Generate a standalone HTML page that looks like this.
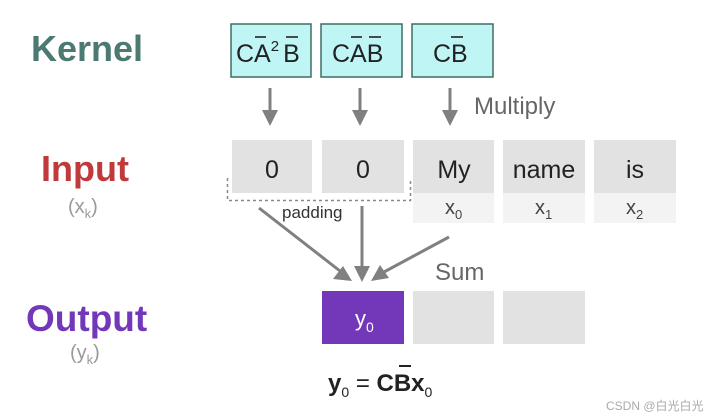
<!DOCTYPE html>
<html><head><meta charset="utf-8"><style>
html,body{margin:0;padding:0;background:#fff;}
svg{display:block;}
text{font-family:"Liberation Sans","Noto Sans CJK SC",sans-serif;}
</style></head><body>
<svg width="717" height="418" viewBox="0 0 717 418" xmlns="http://www.w3.org/2000/svg">
<!-- left labels -->
<text x="31" y="61" font-size="36" font-weight="bold" fill="#4a7a72">Kernel</text>
<text x="41" y="181" font-size="36" font-weight="bold" fill="#c0393b">Input</text>
<text x="68" y="213" font-size="20" fill="#999">(x<tspan font-size="13" dy="5">k</tspan><tspan dy="-5">)</tspan></text>
<text x="26" y="331" font-size="37" font-weight="bold" fill="#7338b9">Output</text>
<text x="70" y="359" font-size="20" fill="#999">(y<tspan font-size="13" dy="5">k</tspan><tspan dy="-5">)</tspan></text>

<!-- kernel boxes -->
<g fill="#bff5f5" stroke="#3e6e64" stroke-width="1.5">
<rect x="231" y="24" width="80" height="53"/>
<rect x="321" y="24" width="81" height="53"/>
<rect x="412" y="24" width="81" height="53"/>
</g>
<g font-size="25" fill="#222">
<text x="236" y="62">CA<tspan font-size="15" dy="-11">2</tspan><tspan dy="11" dx="4">B</tspan></text>
<text x="332" y="62">CAB</text>
<text x="433" y="62">CB</text>
</g>
<g stroke="#222" stroke-width="1.6">
<line x1="255" y1="37" x2="266" y2="37"/><line x1="286" y1="37" x2="298" y2="37"/>
<line x1="351" y1="37" x2="362" y2="37"/><line x1="369" y1="37" x2="381" y2="37"/>
<line x1="451" y1="37" x2="463" y2="37"/>
</g>

<!-- multiply arrows -->
<g stroke="#808080" stroke-width="3" fill="#808080">
<line x1="270" y1="88" x2="270" y2="112"/><path d="M262,110 L278,110 L270,126 Z" stroke="none"/>
<line x1="360" y1="88" x2="360" y2="112"/><path d="M352,110 L368,110 L360,126 Z" stroke="none"/>
<line x1="450" y1="88" x2="450" y2="112"/><path d="M442,110 L458,110 L450,126 Z" stroke="none"/>
</g>
<text x="474" y="114" font-size="24" fill="#666">Multiply</text>

<!-- input boxes -->
<g fill="#e2e2e2">
<rect x="232" y="140" width="80" height="53"/>
<rect x="322" y="140" width="82" height="53"/>
<rect x="413" y="140" width="81" height="53"/>
<rect x="503" y="140" width="82" height="53"/>
<rect x="594" y="140" width="82" height="53"/>
</g>
<g fill="#f3f3f3">
<rect x="413" y="193" width="81" height="30"/>
<rect x="503" y="193" width="82" height="30"/>
<rect x="594" y="193" width="82" height="30"/>
</g>
<g font-size="25" fill="#222" text-anchor="middle">
<text x="272" y="178">0</text>
<text x="363" y="178">0</text>
<text x="454" y="178">My</text>
<text x="544" y="178">name</text>
<text x="635" y="178">is</text>
</g>
<g font-size="20" fill="#444">
<text x="445" y="214">x<tspan font-size="13" dy="5">0</tspan></text>
<text x="535" y="214">x<tspan font-size="13" dy="5">1</tspan></text>
<text x="626" y="214">x<tspan font-size="13" dy="5">2</tspan></text>
</g>
<path d="M227.5,178 V200.5 H410.5 V178" fill="none" stroke="#888" stroke-width="1.5" stroke-dasharray="3,3"/>
<text x="282" y="218" font-size="17" fill="#333">padding</text>

<!-- sum arrows -->
<g stroke="#808080" stroke-width="3">
<line x1="259" y1="208" x2="340" y2="271"/>
<line x1="362" y1="206" x2="362" y2="268"/>
<line x1="449" y1="237" x2="384" y2="272"/>
</g>
<g fill="#808080">
<path d="M352,281 L333,279 L343,266 Z"/>
<path d="M354,266 L370,266 L362,282 Z"/>
<path d="M371,281 L380,265 L389,278 Z"/>
</g>
<text x="435" y="280" font-size="24" fill="#666">Sum</text>

<!-- output boxes -->
<rect x="322" y="291" width="82" height="53" fill="#7338b9"/>
<rect x="413" y="291" width="81" height="53" fill="#e2e2e2"/>
<rect x="503" y="291" width="82" height="53" fill="#e2e2e2"/>
<text x="355" y="326" font-size="22" fill="#fff">y<tspan font-size="14" dy="6">0</tspan></text>

<!-- formula -->
<text x="328" y="391" font-size="24" font-weight="bold" fill="#222">y<tspan font-size="14" font-weight="normal" dy="6">0</tspan><tspan dy="-6" font-weight="normal"> = </tspan>CBx<tspan font-size="14" font-weight="normal" dy="6">0</tspan></text>
<line x1="399" y1="366" x2="411" y2="366" stroke="#222" stroke-width="2"/>
<text x="606" y="410" font-size="12" fill="#aaa">CSDN @白光白光</text>
</svg>
</body></html>
